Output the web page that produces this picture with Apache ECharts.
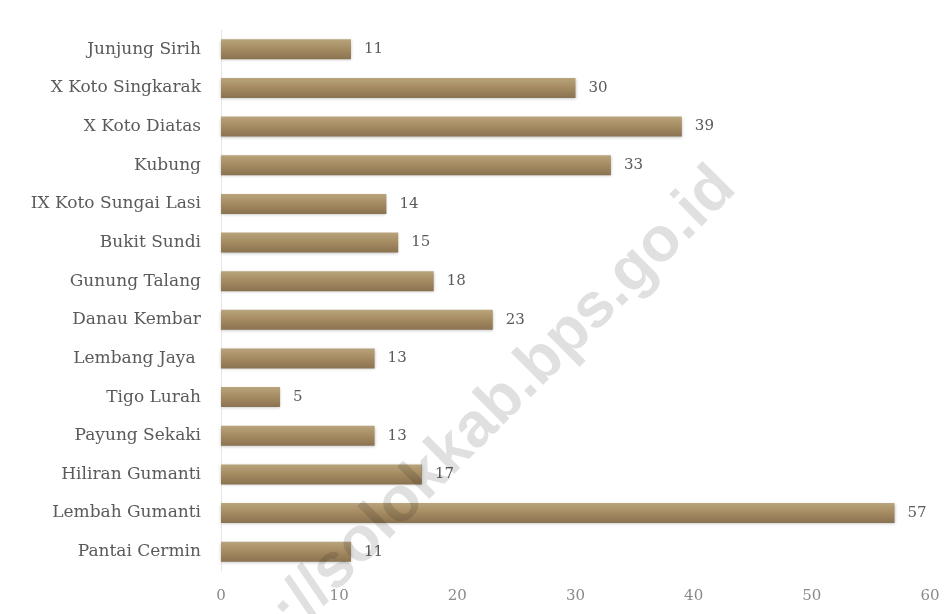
<!DOCTYPE html>
<html>
<head>
<meta charset="utf-8">
<script src="https://cdn.jsdelivr.net/npm/echarts@6/dist/echarts.min.js"></script>
<style>html,body{margin:0;padding:0;background:#fff;}#c{width:950px;height:614px;}</style>
</head>
<body>
<div id="c"></div>
<script>
var categories = ["Junjung Sirih","X Koto Singkarak","X Koto Diatas","Kubung","IX Koto Sungai Lasi","Bukit Sundi","Gunung Talang","Danau Kembar","Lembang Jaya ","Tigo Lurah","Payung Sekaki","Hiliran Gumanti","Lembah Gumanti","Pantai Cermin"];
var values = [11,30,39,33,14,15,18,23,13,5,13,17,57,11];
var xTicks = [0,10,20,30,40,50,60];
var watermark = "http://solokkab.bps.go.id";

var chart = echarts.init(document.getElementById('c'));
chart.setOption({
  animation: false,
  backgroundColor: '#fff',
  grid: {left: 221, right: 20, top: 30, bottom: 43},
  xAxis: {
    type: 'value', min: xTicks[0], max: xTicks[xTicks.length-1], interval: 10,
    splitLine: {show: false}, axisLine: {show: false}, axisTick: {show: false},
    axisLabel: {color: '#8a8a8a', fontFamily: 'DejaVu Serif', fontSize: 15, margin: 18}
  },
  yAxis: {
    type: 'category', inverse: true, data: categories,
    axisLine: {show: true, lineStyle: {color: '#e6e6e6', width: 1}},
    axisTick: {show: false},
    axisLabel: {color: '#5a5a5a', fontFamily: 'DejaVu Serif', fontSize: 17, margin: 20}
  },
  series: [{
    type: 'bar', data: values, barWidth: 20,
    itemStyle: {
      color: new echarts.graphic.LinearGradient(0,0,0,1,[
        {offset:0,color:'#b9a47c'},{offset:0.5,color:'#a48a60'},{offset:1,color:'#8a7352'}]),
      shadowColor: 'rgba(0,0,0,0.25)', shadowBlur: 3, shadowOffsetY: 1
    },
    label: {show: true, position: 'right', distance: 13, color: '#5a5a5a', fontFamily: 'DejaVu Serif', fontSize: 15}
  }],
  graphic: [{
    type: 'text', silent: true, z: 100,
    x: 748, y: 200, rotation: 45*Math.PI/180,
    style: {text: watermark, textAlign: 'right', textVerticalAlign: 'bottom', font: 'bold 63px "Liberation Sans"', fill: 'rgba(0,0,0,0.12)'}
  }]
});
</script>
</body>
</html>
